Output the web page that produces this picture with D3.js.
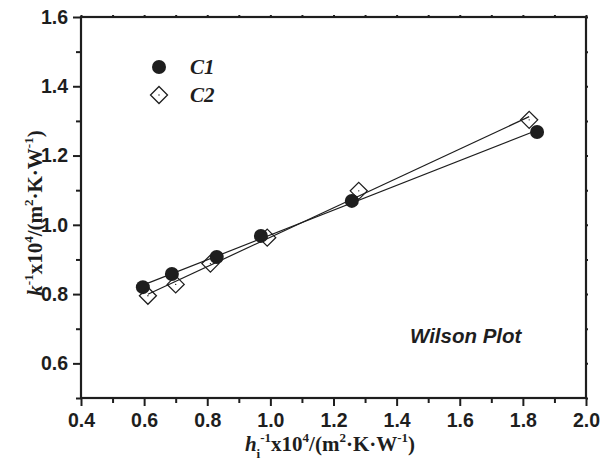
<!DOCTYPE html>
<html><head><meta charset="utf-8">
<script src="https://cdn.jsdelivr.net/npm/d3@7"></script>
<style>body{margin:0;background:#fff}svg{display:block}</style>
</head><body>
<svg id="c" width="601" height="462"></svg>
<script>
const c1X = [0.596, 0.688, 0.830, 0.970, 1.258, 1.845];
const c1Y = [0.820, 0.858, 0.907, 0.968, 1.069, 1.268];
const c2X = [0.612, 0.700, 0.810, 0.990, 1.280, 1.820];
const c2Y = [0.795, 0.828, 0.888, 0.963, 1.098, 1.303];
const xTicks = [0.4, 0.6, 0.8, 1.0, 1.2, 1.4, 1.6, 1.8, 2.0];
const yTicks = [0.6, 0.8, 1.0, 1.2, 1.4, 1.6];
const seriesNames = ["C1", "C2"];

const svg = d3.select("#c");
const L = 81, R = 586, T = 17, B = 398;
const x = d3.scaleLinear().domain([0.4, 2.0]).range([L, R]);
const y = d3.scaleLinear().domain([0.5, 1.6]).range([B, T]);
const ink = "#1e1e1e";

function fit(xs, ys) {
  const n = xs.length, mx = d3.mean(xs), my = d3.mean(ys);
  let sxy = 0, sxx = 0;
  for (let i = 0; i < n; i++) { sxy += (xs[i]-mx)*(ys[i]-my); sxx += (xs[i]-mx)**2; }
  const b = sxy / sxx, a = my - b*mx;
  const x0 = d3.min(xs), x1 = d3.max(xs);
  return [[x0, a + b*x0], [x1, a + b*x1]];
}

const xMinor = d3.range(0.5, 2.0, 0.2);
const yMinor = d3.range(0.5, 1.6, 0.2);

const g = svg.append("g");
const xa = g.append("g").attr("transform", `translate(0,${B})`)
  .call(d3.axisBottom(x).tickValues(xTicks).tickFormat(d3.format(".1f")).tickSize(8).tickPadding(4));
g.append("g").attr("transform", `translate(0,${B})`)
  .call(d3.axisBottom(x).tickValues(xMinor).tickFormat("").tickSize(5));
const ya = g.append("g").attr("transform", `translate(${L},0)`)
  .call(d3.axisLeft(y).tickValues(yTicks).tickFormat(d3.format(".1f")).tickSize(8).tickPadding(4));
g.append("g").attr("transform", `translate(${L},0)`)
  .call(d3.axisLeft(y).tickValues(yMinor).tickFormat("").tickSize(5));
g.append("g").attr("transform", `translate(0,${T})`)
  .call(d3.axisTop(x).tickValues(xTicks.concat(xMinor)).tickFormat("").tickSize(2));
g.append("g").attr("transform", `translate(${R},0)`)
  .call(d3.axisRight(y).tickValues(yTicks.concat(yMinor)).tickFormat("").tickSize(2));

svg.selectAll(".domain").remove();
svg.selectAll(".tick line").attr("stroke", ink).attr("stroke-width", 2);
svg.selectAll(".tick text").attr("fill", ink)
  .style("font-family", "'Liberation Sans', Arial, sans-serif")
  .style("font-weight", "bold").style("font-size", "19.5px");
xa.selectAll(".tick text").attr("dy", "0.85em");
ya.selectAll(".tick text").attr("dx", "-1px");

g.append("rect").attr("x", L).attr("y", T).attr("width", R-L).attr("height", B-T)
  .attr("fill", "none").attr("stroke", ink).attr("stroke-width", 2.2);

const line = d3.line().x(d => x(d[0])).y(d => y(d[1]));
[[c1X, c1Y], [c2X, c2Y]].forEach(([xs, ys]) => {
  g.append("path").attr("d", line(fit(xs, ys))).attr("fill", "none")
    .attr("stroke", ink).attr("stroke-width", 1.2);
});

const c1 = c1X.map((v, i) => [v, c1Y[i]]);
const c2 = c2X.map((v, i) => [v, c2Y[i]]);
function diamond(sel, cx, cy) {
  const s = 8.5;
  sel.append("path").attr("d", `M${cx},${cy-s}L${cx+s},${cy}L${cx},${cy+s}L${cx-s},${cy}Z`)
    .attr("fill", "none").attr("stroke", ink).attr("stroke-width", 1.3);
  sel.append("circle").attr("cx", cx).attr("cy", cy).attr("r", 0.7).attr("fill", ink);
}
g.selectAll(".c1").data(c1).join("circle").attr("class", "c1")
  .attr("cx", d => x(d[0])).attr("cy", d => y(d[1])).attr("r", 7).attr("fill", ink);
c2.forEach(d => diamond(g, x(d[0]), y(d[1])));

g.append("circle").attr("cx", 159).attr("cy", 67).attr("r", 7).attr("fill", ink);
diamond(g, 159, 95);
const legFont = "'Liberation Serif', 'Times New Roman', serif";
[[seriesNames[0], 74], [seriesNames[1], 102]].forEach(([t, yy]) => {
  g.append("text").attr("x", 190).attr("y", yy).text(t)
    .style("font-family", legFont).style("font-weight", "bold").style("font-style", "italic")
    .style("font-size", "21px").attr("fill", ink);
});

g.append("text").attr("x", 410).attr("y", 343).text("Wilson Plot")
  .style("font-family", "'Liberation Sans', Arial, sans-serif").style("font-weight", "bold")
  .style("font-style", "italic").style("font-size", "20.5px").attr("fill", ink);

function title(sel, main, sub) {
  const t = sel.append("text").style("font-family", legFont).style("font-weight", "bold")
    .style("font-size", "21px").attr("fill", ink);
  t.append("tspan").text(main).style("font-style", "italic");
  if (sub) t.append("tspan").text(sub).attr("dy", 7).style("font-size", "13px");
  t.append("tspan").text("-1").attr("dy", sub ? -16 : -9).style("font-size", "13px");
  t.append("tspan").text("x10").attr("dy", 9);
  t.append("tspan").text("4").attr("dy", -9).style("font-size", "13px");
  t.append("tspan").text("/(m").attr("dy", 9);
  t.append("tspan").text("2").attr("dy", -9).style("font-size", "13px");
  t.append("tspan").text("\u00B7K\u00B7W").attr("dy", 9);
  t.append("tspan").text("-1").attr("dy", -9).style("font-size", "13px");
  t.append("tspan").text(")").attr("dy", 9);
  return t;
}
const xt = title(svg.append("g").attr("transform", "translate(330,451)"), "h", "i");
xt.attr("text-anchor", "middle");
const yt = title(svg.append("g").attr("transform", "translate(42,213) rotate(-90)"), "k", null);
yt.attr("text-anchor", "middle");
</script>
</body></html>
